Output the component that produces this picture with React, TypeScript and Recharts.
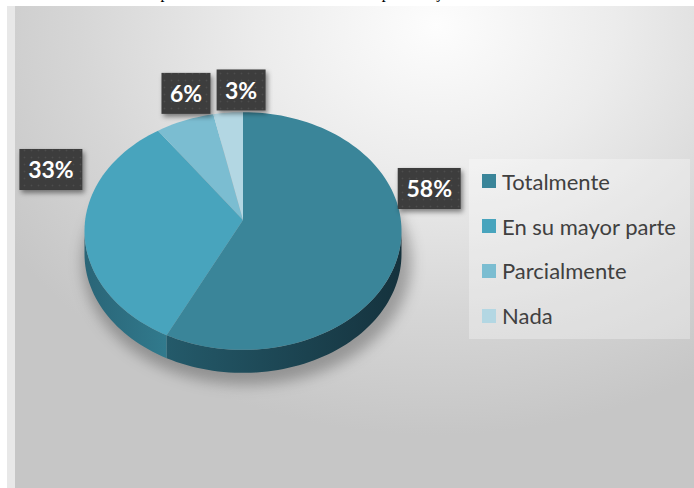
import { PieChart, Pie, Legend } from "recharts";

const categories = ["Totalmente", "En su mayor parte", "Parcialmente", "Nada"];
const shares = [58, 33, 6, 3];
const colors = ["#3a8599", "#48a4bd", "#7bbdd1", "#b3d7e3"];
const sideColors = [
  ["#245a6a", "#15323d"],
  ["#2a6577", "#317a8d"],
  ["#4d8a9c", "#5d9aab"],
  ["#7fa9b5", "#8fb7c2"],
];
// nudges of the value boxes away from the default outside position
const labelShift = [
  [2, -78],
  [-2, -66],
  [13, -5],
  [16, 1],
];

const data = categories.map((name, i) => ({ name, value: shares[i], fill: colors[i] }));

const W = 694;
const H = 488;
const CX = 243;
const CY = 231;
const RX = 158.5;
const TILT = 0.75;
const DEPTH = 23;
const APEX = 11;
const RAD = Math.PI / 180;

const pt = (cx: number, cy: number, r: number, deg: number) => [
  cx + r * Math.cos(deg * RAD),
  cy - r * TILT * Math.sin(deg * RAD),
];

function arc(cx: number, cy: number, r: number, a: number, b: number, dy = 0) {
  const n = Math.max(2, Math.ceil(Math.abs(b - a) / 2));
  const out: string[] = [];
  for (let i = 0; i <= n; i++) {
    const [x, y] = pt(cx, cy, r, a + ((b - a) * i) / n);
    out.push(`${x.toFixed(2)},${(y + dy).toFixed(2)}`);
  }
  return out;
}

function renderSide(p: any) {
  const { cx, cy, outerRadius, startAngle, endAngle, index } = p;
  const lo = Math.min(startAngle, endAngle);
  const hi = Math.max(startAngle, endAngle);
  const parts: JSX.Element[] = [];
  for (let k = -2; k <= 1; k++) {
    const a = Math.max(lo, -180 + 360 * k);
    const b = Math.min(hi, 360 * k);
    if (b - a <= 0.01) continue;
    const top = arc(cx, cy, outerRadius, a, b);
    const bottom = arc(cx, cy, outerRadius, b, a, DEPTH);
    parts.push(
      <path
        key={k}
        d={`M${top.join(" L")} L${bottom.join(" L")} Z`}
        fill={`url(#side${index})`}
      />
    );
  }
  return (
    <g key={`side-${index}`}>
      {index === 0 && (
        <ellipse
          cx={cx + 4}
          cy={cy + DEPTH + 8}
          rx={outerRadius + 6}
          ry={outerRadius * TILT + 4}
          fill="rgba(0,0,0,0.28)"
          filter="url(#pieShadow)"
        />
      )}
      {parts}
    </g>
  );
}

function renderTop(p: any) {
  const { cx, cy, outerRadius, startAngle, endAngle, index, fill } = p;
  const pts = arc(cx, cy, outerRadius, startAngle, endAngle);
  return (
    <path
      key={`top-${index}`}
      d={`M${cx},${cy - APEX} L${pts.join(" L")} Z`}
      fill={fill}
    />
  );
}

function renderValue(p: any) {
  const { cx, cy, outerRadius, midAngle, percent, index } = p;
  const [bx, by] = pt(cx, cy, outerRadius * 1.2, midAngle);
  const x = bx + labelShift[index][0];
  const y = by + labelShift[index][1];
  const text = `${Math.round(percent * 100)}%`;
  const w = text.length * 14 + 21;
  const h = 41;
  return (
    <g key={`val-${index}`}>
      <rect
        x={x - w / 2}
        y={y - h / 2}
        width={w}
        height={h}
        fill="url(#dots)"
        filter="url(#boxShadow)"
      />
      <text
        x={x}
        y={y}
        textAnchor="middle"
        dominantBaseline="central"
        fill="#ffffff"
        fontFamily="Lato, 'Open Sans', sans-serif"
        fontWeight={700}
        fontSize={23}
      >
        {text}
      </text>
    </g>
  );
}

function LegendBox(props: any) {
  const items = (props.payload || [])
    .filter((e: any) => e.type !== "none")
    .slice()
    .sort((a: any, b: any) => categories.indexOf(a.value) - categories.indexOf(b.value));
  return (
    <div
      style={{
        width: 221,
        height: 180,
        background: "rgba(255,255,255,0.3)",
        boxSizing: "border-box",
        paddingTop: 0,
        paddingLeft: 13,
      }}
    >
      {items.map((e: any) => (
        <div
          key={e.value}
          style={{ display: "flex", alignItems: "center", height: 44.8 }}
        >
          <span
            style={{
              width: 14,
              height: 14,
              background: colors[categories.indexOf(e.value)] || e.color,
              marginRight: 6,
              flexShrink: 0,
            }}
          />
          <span
            style={{
              fontFamily: "Lato, 'Open Sans', sans-serif",
              fontSize: 22,
              color: "#404040",
              whiteSpace: "nowrap",
            }}
          >
            {e.value}
          </span>
        </div>
      ))}
    </div>
  );
}

export default function App() {
  return (
    <div
      style={{
        position: "absolute",
        left: 0,
        top: 0,
        width: W,
        height: H,
        overflow: "hidden",
        background: "#ffffff",
      }}
    >
      <svg width={0} height={0} style={{ position: "absolute" }}>
        <defs>
          <pattern id="dots" width={7} height={7} patternUnits="userSpaceOnUse">
            <rect width={7} height={7} fill="#3c3c3c" />
            <circle cx={3.5} cy={3.5} r={1} fill="#4d4d4d" />
          </pattern>
          <filter id="boxShadow" x="-30%" y="-30%" width="160%" height="170%">
            <feDropShadow dx={2} dy={3} stdDeviation={2.5} floodColor="#000" floodOpacity={0.45} />
          </filter>
          <filter id="pieShadow" x="-20%" y="-20%" width="140%" height="140%">
            <feGaussianBlur stdDeviation={7} />
          </filter>
          {sideColors.map(([a, b], i) => (
            <linearGradient key={i} id={`side${i}`} x1="0" y1="0" x2="1" y2="0">
              <stop offset="0%" stopColor={a} />
              <stop offset="100%" stopColor={b} />
            </linearGradient>
          ))}
        </defs>
      </svg>
      <div
        style={{
          position: "absolute",
          left: 18,
          top: -15,
          fontFamily: "'Liberation Serif', serif",
          fontSize: 16,
          lineHeight: "16px",
          whiteSpace: "nowrap",
          color: "#000",
        }}
      >
        Gráfico 12. Nivel de aplicación de la información en el aprendizaje de los estudiantes
      </div>
      <div
        style={{
          position: "absolute",
          left: 7,
          top: 6,
          width: 8,
          bottom: 0,
          background: "#e8e8e8",
        }}
      />
      <div
        style={{
          position: "absolute",
          left: 15,
          top: 6,
          right: 0,
          bottom: 0,
          background:
            "radial-gradient(ellipse 75% 85% at 62% 4%, #fdfdfd 0%, #ececec 35%, #d6d6d6 70%, #c6c6c6 100%)",
        }}
      />
      <div style={{ position: "absolute", left: 0, top: 0 }}>
        <PieChart width={W} height={H} margin={{ top: 0, right: 0, bottom: 0, left: 0 }}>
          <Pie
            data={data}
            dataKey="value"
            nameKey="name"
            cx={CX}
            cy={CY}
            outerRadius={RX}
            startAngle={90}
            endAngle={-270}
            stroke="none"
            fillOpacity={0}
            labelLine={false}
            label={renderSide}
            legendType="none"
            isAnimationActive={false}
          />
          <Pie
            data={data}
            dataKey="value"
            nameKey="name"
            cx={CX}
            cy={CY}
            outerRadius={RX}
            startAngle={90}
            endAngle={-270}
            stroke="none"
            fillOpacity={0}
            labelLine={false}
            label={renderTop}
            legendType="square"
            isAnimationActive={false}
          />
          <Pie
            data={data}
            dataKey="value"
            nameKey="name"
            cx={CX}
            cy={CY}
            outerRadius={RX}
            startAngle={90}
            endAngle={-270}
            stroke="none"
            fillOpacity={0}
            labelLine={false}
            label={renderValue}
            legendType="none"
            isAnimationActive={false}
          />
          <Legend
            content={LegendBox}
            wrapperStyle={{ position: "absolute", left: 469, top: 159, width: 221, height: 180 }}
          />
        </PieChart>
      </div>
    </div>
  );
}
